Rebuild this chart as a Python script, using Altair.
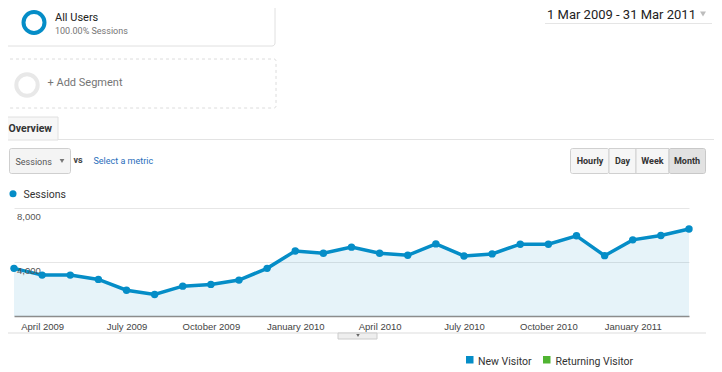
import altair as alt
import pandas as pd

months = ["March 2009", "April 2009", "May 2009", "June 2009", "July 2009",
          "August 2009", "September 2009", "October 2009", "November 2009",
          "December 2009", "January 2010", "February 2010", "March 2010",
          "April 2010", "May 2010", "June 2010", "July 2010", "August 2010",
          "September 2010", "October 2010", "November 2010", "December 2010",
          "January 2011", "February 2011", "March 2011"]
sessions = [3530, 3030, 3030, 2710, 1910, 1590, 2210, 2340, 2660, 3530,
            4820, 4650, 5100, 4650, 4500, 5340, 4450, 4600, 5320, 5320,
            5940, 4470, 5640, 5960, 6440]
tick_labels = ["April 2009", "July 2009", "October 2009", "January 2010",
               "April 2010", "July 2010", "October 2010", "January 2011"]
y_ticks = [4000, 8000]
buttons = ["Hourly", "Day", "Week", "Month"]
legend_items = ["New Visitor", "Returning Visitor"]

BLUE = "#058dc7"
GREEN = "#50b432"
PX0, PY0 = 14, 208  # page position of plot origin


def X(px):
    return px - PX0


def Y(py):
    return py - PY0


one = pd.DataFrame({"k": [0]})


def text(t, px, py, size, color="#333333", weight="normal", font="Roboto", align="left"):
    return alt.Chart(one).mark_text(
        text=t, align=align, baseline="alphabetic", fontSize=size, color=color,
        fontWeight=weight, font=font
    ).encode(x=alt.value(X(px)), y=alt.value(Y(py)))


def rect(x1, y1, x2, y2, fill="white", stroke="#dddddd", dash=None, r=0, sw=1):
    kw = dict(fill=fill, stroke=stroke, strokeWidth=sw, cornerRadius=r)
    if dash:
        kw["strokeDash"] = dash
    return alt.Chart(one).mark_rect(**kw).encode(
        x=alt.value(X(x1)), x2=alt.value(X(x2)), y=alt.value(Y(y1)), y2=alt.value(Y(y2)))


def hrule(x1, x2, py, color="#e3e3e3", sw=1):
    return alt.Chart(one).mark_rule(color=color, strokeWidth=sw).encode(
        x=alt.value(X(x1)), x2=alt.value(X(x2)), y=alt.value(Y(py)))


def sym(px, py, shape, size, color, filled=True, sw=1):
    return alt.Chart(one).mark_point(
        shape=shape, size=size, color=color, filled=filled, strokeWidth=sw, opacity=1
    ).encode(x=alt.value(X(px)), y=alt.value(Y(py)))


decos = [
    # segment boxes
    rect(2, -6, 275, 46, fill="white", stroke="#e0e0e0", r=3),
    sym(34, 22.5, "circle", 441, BLUE, filled=False, sw=4),
    text("All Users", 55, 20.5, 11, "#212121"),
    text("100.00% Sessions", 55, 34, 9, "#757575"),
    rect(2, 59, 276, 108, fill="transparent", stroke="#dcdcdc", dash=[3, 3], r=2),
    sym(27, 85, "circle", 458, "#e8e8e8", filled=False, sw=4),
    text("+ Add Segment", 47.5, 86, 11, "#757575"),
    # date range
    text("1 Mar 2009 - 31 Mar 2011", 547, 18.5, 13, "#222222"),
    sym(703, 14, "triangle-down", 35, "#bdbdbd"),
    hrule(545, 712, 23.5, "#e5e5e5"),
    # tab
    hrule(58, 722, 139.5, "#e3e3e3"),
    rect(2, 117, 58, 140, fill="#f7f7f7", stroke="#e0e0e0"),
    text("Overview", 8.5, 131.5, 10.5, "#333333", weight="bold"),
    # metric selector
    rect(9.5, 148.5, 70.5, 173.5, fill="#f4f4f4", stroke="#cfcfcf", r=2),
    text("Sessions", 15.5, 164.5, 9, "#555555"),
    sym(62, 161, "triangle-down", 22, "#777777"),
    text("vs", 73.5, 163, 9, "#444444", weight="bold"),
    text("Select a metric", 93.5, 164, 9, "#2a6ebb"),
    # granularity buttons
    rect(570.5, 148.5, 609, 173.5, fill="#f6f6f6", stroke="#d0d0d0", r=2),
    rect(609, 148.5, 636, 173.5, fill="#f6f6f6", stroke="#d0d0d0"),
    rect(636, 148.5, 669, 173.5, fill="#f6f6f6", stroke="#d0d0d0"),
    rect(669, 148.5, 705.5, 173.5, fill="#e2e2e2", stroke="#c8c8c8", r=2),
    text(buttons[0], 590, 164, 9, "#333333", weight="bold", align="center"),
    text(buttons[1], 622.5, 164, 9, "#333333", weight="bold", align="center"),
    text(buttons[2], 652.5, 164, 9, "#333333", weight="bold", align="center"),
    text(buttons[3], 687, 164, 9, "#333333", weight="bold", align="center"),
    # series legend
    sym(13, 193.7, "circle", 50, BLUE),
    text("Sessions", 23.5, 197.5, 10.5, "#333333"),
    # bottom strip
    hrule(0, 706, 333, "#dddddd"),
    rect(338, 333, 377, 339, fill="#eeeeee", stroke="#cccccc"),
    sym(358, 335.5, "triangle-down", 12, "#666666"),
    # bottom legend
    rect(466, 356, 473.5, 363.5, fill=BLUE, stroke=BLUE, sw=0),
    text(legend_items[0], 478, 364.5, 10.5, "#333333"),
    rect(543, 356, 550.5, 363.5, fill=GREEN, stroke=GREEN, sw=0),
    text(legend_items[1], 555.5, 364.5, 10.5, "#333333"),
]

df = pd.DataFrame({"month": months, "sessions": sessions})
ydf = pd.DataFrame({"v": y_ticks})

xenc = alt.X(
    "month:O", sort=months,
    scale=alt.Scale(type="point", padding=0),
    axis=alt.Axis(values=tick_labels, title=None, ticks=False, grid=False,
                  domainColor="#8c8c8c", domainWidth=1.5, labelAngle=0,
                  labelFont="Liberation Sans", labelFontSize=9.5, labelColor="#444444",
                  labelPadding=5, labelOverlap=False),
)
yscale = alt.Scale(domain=[0, 8000], nice=False, zero=True)
yenc = alt.Y(
    "sessions:Q", scale=yscale,
    axis=alt.Axis(values=y_ticks, title=None, ticks=False, domain=False, labels=False,
                  grid=True, gridColor="#e6e6e6"),
)

base = alt.Chart(df).encode(x=xenc, y=yenc)
area = base.mark_area(color=BLUE, opacity=0.1)
ylabels = alt.Chart(ydf).mark_text(
    align="left", baseline="top", dy=3.5, font="Liberation Sans", fontSize=9.5,
    color="#555555"
).encode(x=alt.value(3), y=alt.Y("v:Q", scale=yscale), text=alt.Text("v:Q", format=",d"))
line = base.mark_line(color=BLUE, strokeWidth=3.5)
pts = base.mark_point(filled=True, size=55, color=BLUE, opacity=1)

chart = alt.layer(*decos, area, line, ylabels, pts).properties(
    width=675, height=108,
    autosize=alt.AutoSizeParams(type="none"),
    padding={"left": 6, "top": 200, "right": 25, "bottom": 56},
    background="white",
).configure_view(stroke=None)

chart.save("out.html", embed_options={"renderer": "svg", "actions": False})
